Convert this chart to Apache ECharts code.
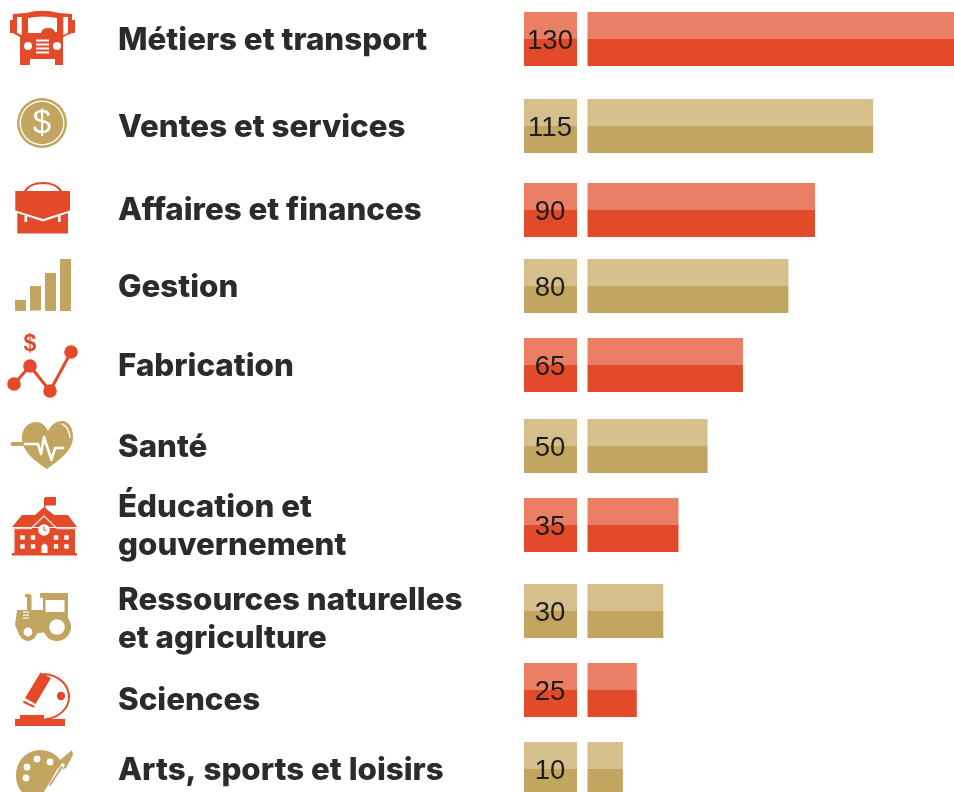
<!DOCTYPE html>
<html>
<head>
<meta charset="utf-8">
<style>
    html, body { margin: 0; padding: 0; background: #fff; overflow: hidden; }
    #chart { width: 954px; height: 792px; }
</style>
</head>
<body>
<div id="chart"></div>
<script src="https://cdn.jsdelivr.net/npm/echarts@6/dist/echarts.min.js"></script>
<script>
const categories = ['Métiers et transport', 'Ventes et services', 'Affaires et finances', 'Gestion', 'Fabrication', 'Santé',
    'Éducation et\ngouvernement', 'Ressources naturelles\net agriculture', 'Sciences', 'Arts, sports et loisirs'];
const valueLabels = ['130', '115', '90', '80', '65', '50', '35', '30', '25', '10'];
// longueur des barres (elles ne suivent pas exactement les nombres affichés)
const barLengths = [145, 113, 90, 79.5, 61.5, 47.5, 36, 30, 19.5, 14];

// mise en page
const rowTops = [12, 99, 183, 259, 338, 419, 498, 584, 663, 742];
const nameCenters = [41, 128, 211, 288, 367, 448, 527, 620, 701, 771];
const rowHeight = 54;
const RED = { dark: '#E24A29', light: '#EA7F66' };
const TAN = { dark: '#C2A560', light: '#D4BF8D' };
const INK = '#2B2B2B';
const WHITE = '#fff';

const rowColor = i => (i % 2 === 0 ? RED : TAN);

// ===== petits helpers pour les icônes =====
const path = (d, fill) => ({ type: 'path', shape: { pathData: d }, style: { fill: fill } });
const stroke = (d, color, w) => ({ type: 'path', shape: { pathData: d }, style: { fill: 'none', stroke: color, lineWidth: w, lineCap: 'round', lineJoin: 'round' } });
const rect = (x, y, width, height, fill) => ({ type: 'rect', shape: { x, y, width, height }, style: { fill } });
const circle = (cx, cy, r, fill) => ({ type: 'circle', shape: { cx, cy, r }, style: { fill } });
const glyph = (t, x, y, size, fill, weight) => ({
    type: 'text',
    style: { text: t, x, y, fill, font: `${weight || 'normal'} ${size}px "Liberation Sans", sans-serif`, textAlign: 'center', textVerticalAlign: 'middle' },
});

function truckIcon(c) {
    return [
        path('M12.7,14 L26,13 Q42.5,8.5 59,13 L72,14 L72,33 L63,37 L63,65 L55,65 L55,59 L30,59 L30,65 L20,65 L20,37 L12.7,33 Z', c),
        rect(10, 20, 7, 13, c), rect(68, 20, 7, 13, c),
        path('M17,17 L21.7,17 L21.7,35 L17,33 Z', WHITE), path('M63.3,17 L68,17 L68,33 L63.3,35 Z', WHITE),
        path('M28,18 Q42.5,15 57,18 L57,32 L55,32 Q54,28 48,28 Q42,28 41,33 L28,33 Z', WHITE),
        circle(28, 46, 4, WHITE), circle(57, 46, 4, WHITE),
        rect(36, 39.5, 13, 2, WHITE), rect(36, 43.5, 13, 2, WHITE), rect(36, 47.5, 13, 2, WHITE), rect(36, 51.5, 13, 2, WHITE),
    ];
}

function coinIcon(c) {
    return [
        circle(42, 123, 25, c), circle(42, 123, 22.5, WHITE), circle(42, 123, 21.2, c),
        glyph('$', 42, 124, 33, WHITE),
    ];
}

function caseIcon(c) {
    return [
        stroke('M25,191 Q30,183 43,183 Q56,183 61,191', c, 2.2),
        path('M15.3,191 L70,191 L70,210.5 L43,219 L15.3,210.5 Z', c),
        path('M17.3,213 L43,221.5 L68,213 L68,233.5 L17.3,233.5 Z', c),
        rect(24.5, 216, 2.6, 6, WHITE), rect(58, 216, 2.6, 6, WHITE),
    ];
}

function barsIcon(c) {
    return [rect(15, 300, 11, 11, c), rect(30, 286, 11, 24.5, c), rect(45, 273, 11, 38, c), rect(60, 259, 11, 52, c)];
}

function lineIcon(c) {
    return [
        stroke('M14,384 L30,366 L50,391 L71,352', c, 3),
        circle(14, 384, 6.8, c), circle(30, 366, 6.8, c), circle(50, 391, 6.8, c), circle(71, 352, 6.8, c),
        glyph('$', 30, 345, 23, c, 'bold'),
    ];
}

function heartIcon(c) {
    return [
        path('M47,469 C40,464 24,455 22,440 C21,428 29,422 36,422 C41,422 45,425 48,431 C51,425 56,421 62,421 C69,421 73,428 73,437 C73,452 56,462 47,469 Z', c),
        stroke('M12.5,444 L24,444', c, 4),
        stroke('M25,444 L38,444 L41,454 L44,437 L51.5,460 L55,448 L63,448', WHITE, 2.6),
        stroke('M62,424 Q69,427 70,437', WHITE, 1.4),
    ];
}

function schoolIcon(c) {
    const windows = [];
    [22.5, 33, 56, 66.5].forEach(x => {
        [537.5, 546.5].forEach(y => windows.push(rect(x - 2.2, y - 2.2, 4.4, 4.4, WHITE)));
    });
    return [
        rect(44, 498, 1.4, 12, c),
        rect(45, 497, 11, 8.5, c),
        path('M12,527 L22,515 L35,515 L44,507 L54,515 L68,515 L77,527 Z', c),
        rect(14.5, 528, 60.5, 27, c),
        stroke('M13,528.5 L31,528.5 L44,516 L57,528.5 L76,528.5', '#F3D5CC', 1.5),
        circle(44, 530, 5.8, WHITE),
        stroke('M44,527 L44,530 L46,531', c, 1),
    ].concat(windows, [
        path('M41.5,553 L41.5,546 Q44.5,541 47.5,546 L47.5,553 Z', WHITE),
        rect(12, 553, 65, 2.5, c),
    ]);
}

function tractorIcon(c) {
    return [
        rect(40, 593, 28, 5, c),
        rect(43, 598, 25, 27, c),
        path('M17,610 L46,610 L46,632 L20,636 L15,625 Z', c),
        rect(27, 595, 4.5, 16, c), rect(25, 594, 5, 3, c),
        circle(57, 627, 14, c), circle(28, 632, 9, c),
        rect(45.5, 600, 19, 12, WHITE),
        circle(57, 627, 7.8, WHITE), circle(28, 632, 4.4, WHITE),
        rect(23, 611.5, 6, 1.2, WHITE), rect(23, 614.5, 6, 1.2, WHITE), rect(23, 617.5, 6, 1.2, WHITE),
    ];
}

function scopeIcon(c) {
    return [
        rect(15, 719, 50, 7, c), rect(20, 715, 24, 4, c),
        path('M40.5,672.5 L51,678 L35.5,704 L25,698 Z', c),
        stroke('M24,702 L33.5,706.5', c, 2),
        stroke('M44,674 C60,675 69,686 69,697 C69,709 58,718 46,719', c, 2),
        circle(61, 696, 4.2, c),
    ];
}

function paletteIcon(c) {
    return [
        path('M16,775 C16,760 28,750 40,750 C50,750 58,755 61,762 L54,775 L44,792 L22,792 C18,788 16,782 16,775 Z', c),
        path('M60,760 L72,750 L73,755 L66,768 L57,772 Z', c),
        stroke('M63,765 L50,787', WHITE, 3.5),
        stroke('M62,767 L50,785', '#B9AB82', 2),
        circle(37, 759, 3.4, WHITE), circle(50, 762, 3.4, WHITE), circle(27, 767, 3.4, WHITE), circle(26, 778, 3.4, WHITE),
    ];
}

const iconBuilders = [truckIcon, coinIcon, caseIcon, barsIcon, lineIcon, heartIcon, schoolIcon, tractorIcon, scopeIcon, paletteIcon];

// ===== barres =====
function twoTone(x, y, width, colors) {
    return [
        { type: 'rect', shape: { x, y, width, height: rowHeight / 2 }, style: { fill: colors.light } },
        { type: 'rect', shape: { x, y: y + rowHeight / 2, width, height: rowHeight / 2 }, style: { fill: colors.dark } },
    ];
}

function renderBar(params, api) {
    const i = params.dataIndex;
    const start = api.coord([0, rowTops[i]]);
    const end = api.coord([api.value(0), rowTops[i]]);
    const children = twoTone(start[0], start[1], end[0] - start[0], rowColor(i));
    // case du nombre, à gauche de la barre
    children.push(...twoTone(524, start[1], 53, rowColor(i)));
    children.push({
        type: 'text',
        style: { text: valueLabels[i], x: 550, y: start[1] + 29, fill: '#1E1E1E', font: '27.5px "Liberation Sans", Arial, sans-serif', textAlign: 'center', textVerticalAlign: 'middle' },
    });
    children.push({
        type: 'text',
        style: {
            text: categories[i], x: 118, y: nameCenters[i], fill: INK,
            font: '800 31.3px Inter, sans-serif', textAlign: 'left', textVerticalAlign: 'middle', lineHeight: 38,
        },
    });
    return { type: 'group', children };
}

function renderIcon(params) {
    const i = params.dataIndex;
    return { type: 'group', children: iconBuilders[i](rowColor(i).dark) };
}

const chart = echarts.init(document.getElementById('chart'), null, { renderer: 'canvas' });
chart.setOption({
    animation: false,
    grid: { left: 587.5, width: 366.5, top: 0, height: 792 },
    xAxis: { type: 'value', min: 0, max: 145, show: false },
    yAxis: { type: 'value', min: 0, max: 792, inverse: true, show: false },
    series: [
        { type: 'custom', renderItem: renderBar, data: barLengths.map(v => [v]), silent: true, clip: false, encode: { x: 0 } },
        { type: 'custom', coordinateSystem: 'none', renderItem: renderIcon, data: categories.map(c => [c]), silent: true },
    ],
});
</script>
</body>
</html>
